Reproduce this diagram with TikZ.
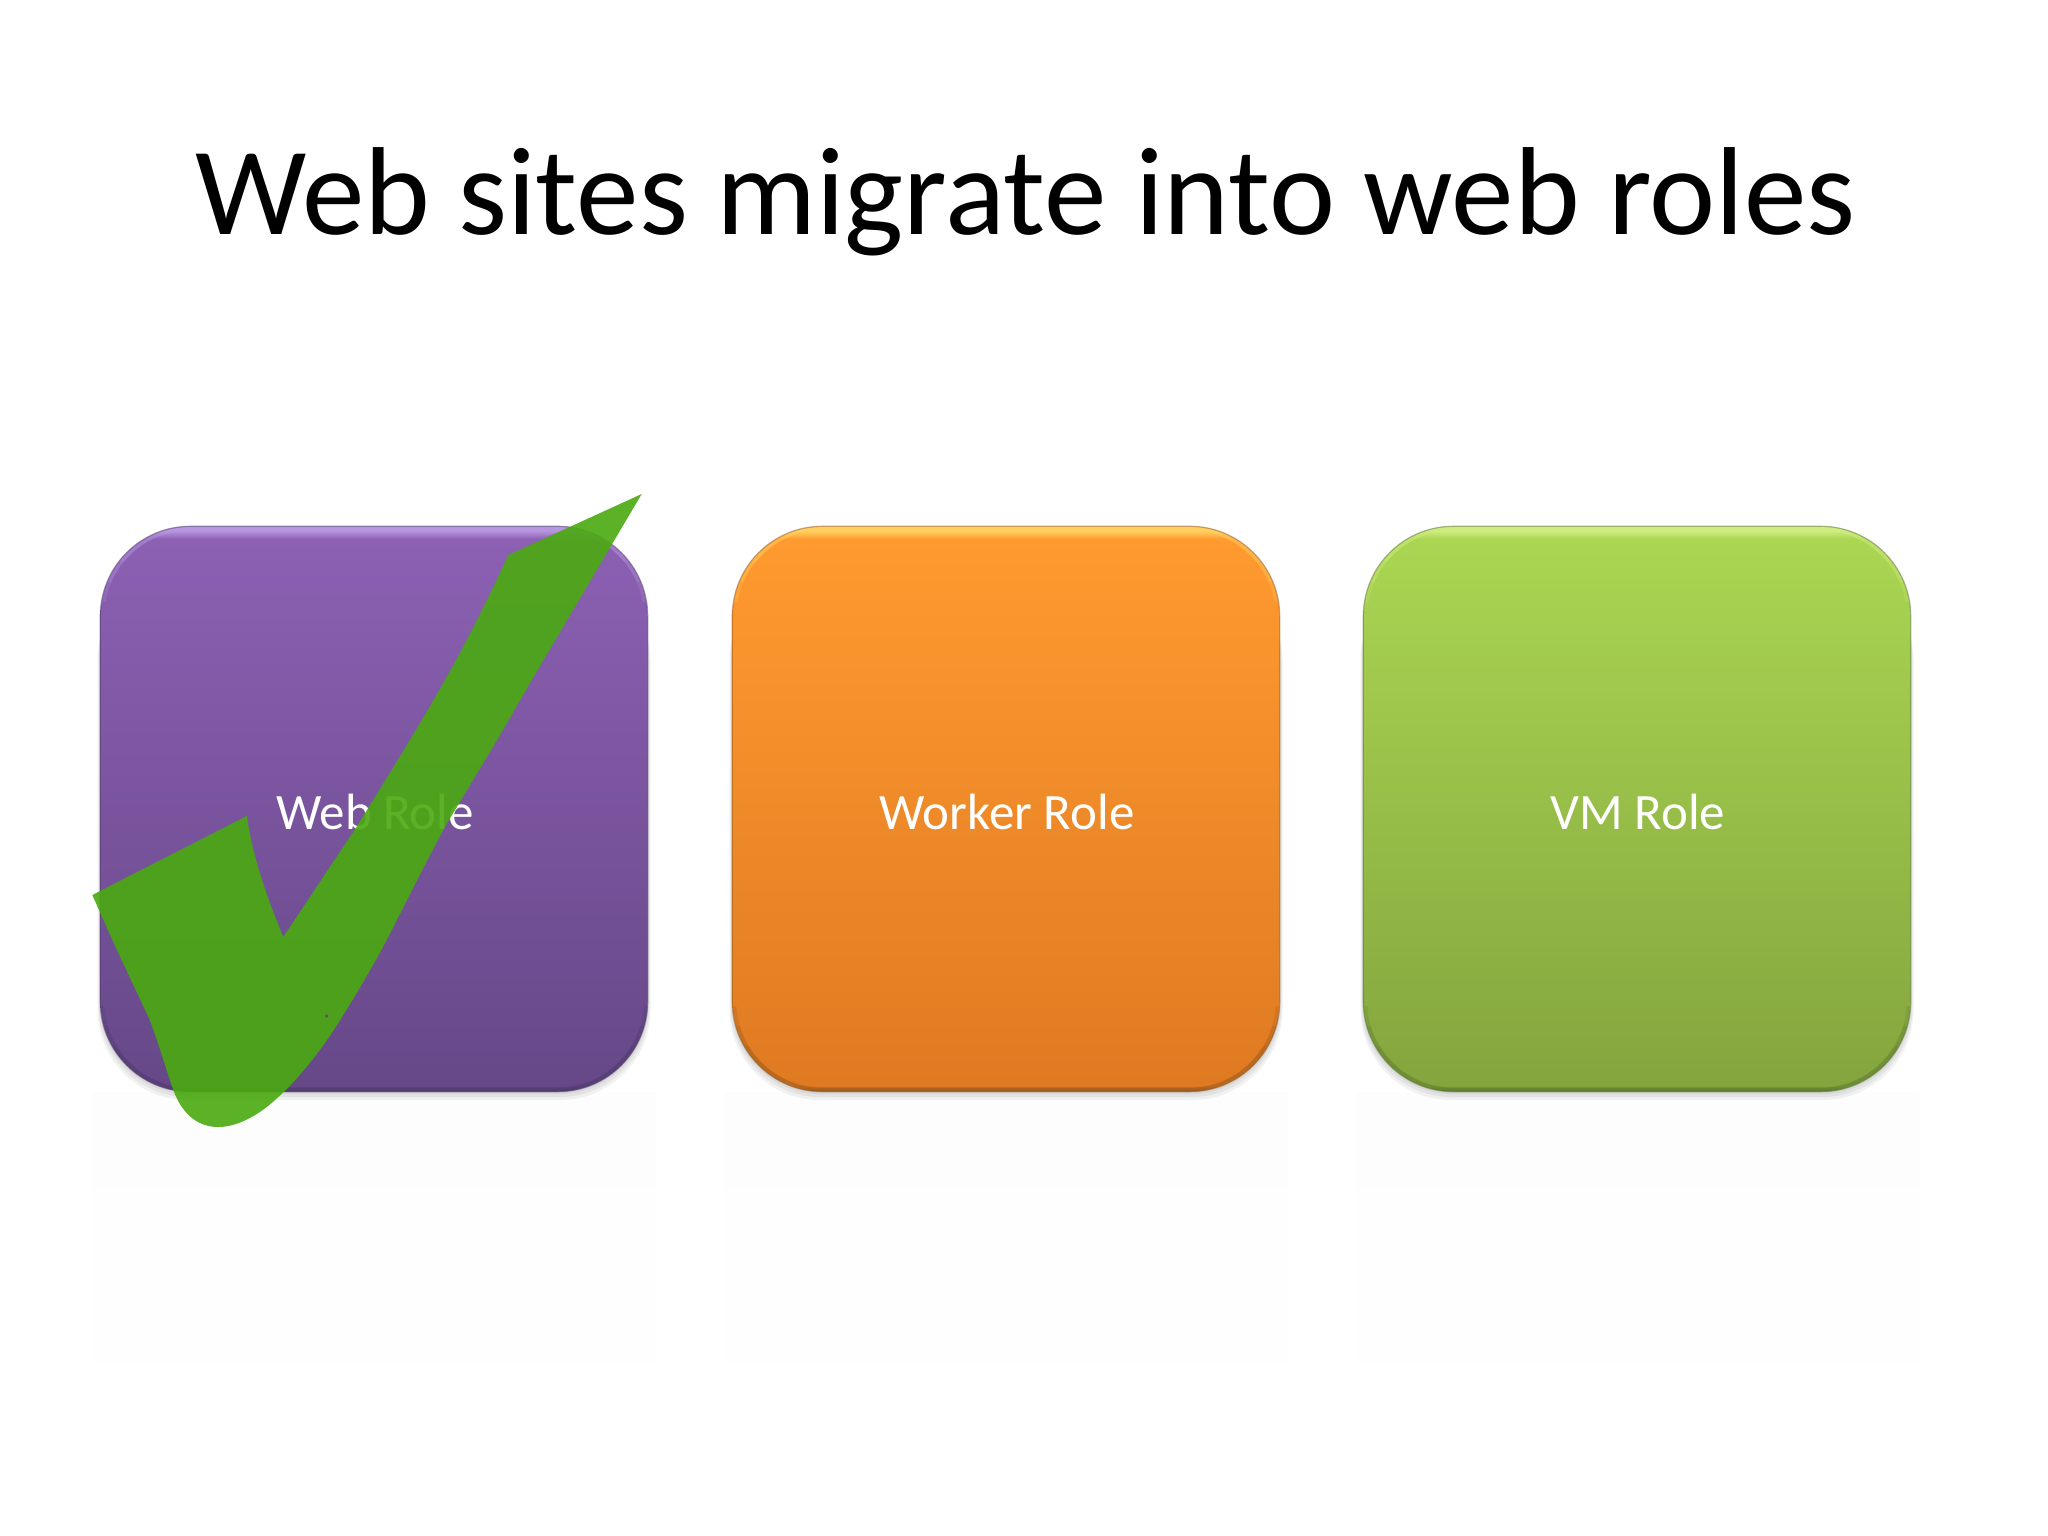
\documentclass[tikz,border=0pt]{standalone}
\usepackage{fontspec}
\setmainfont{Carlito}
\usetikzlibrary{calc}
\definecolor{pA}{HTML}{8C60B3}\definecolor{pB}{HTML}{664888}
\definecolor{pR}{HTML}{B795E0}\definecolor{pE}{HTML}{4E3A6C}
\definecolor{oA}{HTML}{FF9A30}\definecolor{oB}{HTML}{DF7A22}
\definecolor{oR}{HTML}{FFD060}\definecolor{oE}{HTML}{9A5A20}
\definecolor{gA}{HTML}{AAD652}\definecolor{gB}{HTML}{84A53E}
\definecolor{gR}{HTML}{CFEC80}\definecolor{gE}{HTML}{5E7A30}
\definecolor{checkgreen}{HTML}{4AAA10}
\newcommand{\makeshade}[1]{\pgfdeclareverticalshading{#1shade}{100bp}{%
  color(0bp)=(#1E);color(25bp)=(#1E);color(25.5bp)=(#1B);color(73.9bp)=(#1A);color(74.6bp)=(#1R);color(75bp)=(#1R);color(100bp)=(#1R)}}
\makeshade{p}\makeshade{o}\makeshade{g}
\tikzset{
  rolebox/.style={rounded corners=90pt,minimum width=547pt,minimum height=565pt,inner sep=0pt},
  softedge/.style={draw=#1E,draw opacity=.55,line width=1.2pt},
  shadowband/.style={fill=black,fill opacity=.05,rounded corners=90pt},
  reflect/.style={top color=black!0.8,bottom color=white},
  checkmark/.style={fill=checkgreen,fill opacity=.9},
  rolelabel/.style={text=white,font=\fontsize{51}{54}\selectfont,inner sep=0pt},
  bevel/.style={rounded corners=90pt,draw=#1,line width=8pt,draw opacity=.22}
}
\newcommand{\rolebox}[4]{%
  \coordinate (#1c) at (#2,809);
  \shade[reflect] ($(#1c)+(-282,283)$) rectangle ($(#1c)+(282,640)$);
  \foreach \d in {2,4,6}{
    \fill[shadowband] ($(#1c)+(-273.5-\d*.5,-240)$) rectangle ($(#1c)+(273.5+\d*.5,282.5+\d*1.4)$);}
  \node[rolebox,shading=#3shade] (#1) at (#1c) {};
  \begin{scope}
    \clip[rounded corners=90pt] (#1.north west) rectangle (#1.south east);
    \foreach \h in {35,55,75}{
      \begin{scope}
        \clip (#1.north west) rectangle ($(#1.north east)+(0,\h)$);
        \draw[bevel=#3R] (#1.north west) rectangle (#1.south east);
      \end{scope}
      \begin{scope}
        \clip ($(#1.south west)+(0,-\h-10)$) rectangle (#1.south east);
        \draw[bevel=#3E] (#1.north west) rectangle (#1.south east);
      \end{scope}
    }
  \end{scope}
  \draw[rounded corners=90pt,softedge=#3] (#1.north west) rectangle (#1.south east);
  \node[rolelabel] (#1t) at ($(#1c)+(1,3)$) {#4};
}
\begin{document}
\begin{tikzpicture}[x=1pt,y=-1pt]
\useasboundingbox (0,0) rectangle (2048,1536);
\fill[white] (0,0) rectangle (2048,1536);
\node[font=\fontsize{125.2}{130}\selectfont,text=black,inner sep=0pt] (title) at (1025.5,202) {Web sites migrate into web roles};
\rolebox{web}{374}{p}{Web Role}
\rolebox{worker}{1006}{o}{Worker Role}
\rolebox{vm}{1637}{g}{VM Role}
\fill[checkmark] (641.7,494) -- (508.3,555)
  .. controls (490,595) and (465,645) .. (445,680)
  .. controls (418,728) and (388,776) .. (356.7,826.7)
  -- (283.3,937)
  .. controls (270,905) and (253,860) .. (246.8,816)
  -- (92.3,895)
  -- (118.3,953)
  -- (148.3,1016.7)
  .. controls (155,1032) and (165,1066) .. (173.3,1090)
  .. controls (178,1103) and (190,1127) .. (218.3,1127)
  .. controls (240,1127) and (262,1112) .. (275,1100)
  .. controls (295,1083) and (320,1052) .. (338.3,1023)
  .. controls (355,996) and (372,968) .. (386.7,940)
  .. controls (405,904) and (425,864) .. (445,826.7)
  -- (500,735) -- (531.7,680) -- cycle;
\fill[pE,opacity=.7] (326.7,1016) circle (1.8);
\end{tikzpicture}
\end{document}
